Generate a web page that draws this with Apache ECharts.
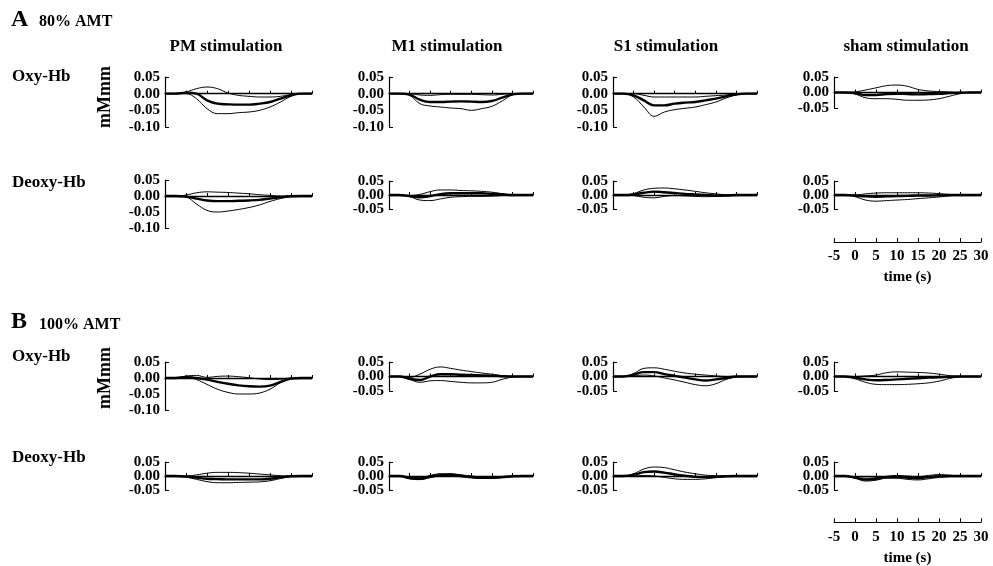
<!DOCTYPE html>
<html>
<head>
<meta charset="utf-8">
<script src="https://cdn.jsdelivr.net/npm/echarts@6/dist/echarts.min.js"></script>
<style>
html, body { margin: 0; padding: 0; background: #fff; }
#main { width: 993px; height: 566px; }
</style>
</head>
<body>
<div id="main"></div>
<script>
// time base in seconds (sampled every 2.5 s)
const times = [-5, -2.5, 0, 2.5, 5, 7.5, 10, 12.5, 15, 17.5, 20, 22.5, 25, 27.5, 30];

// every panel: [upper bound, mean, lower bound]  (mM mm)
// A - 80% AMT
const pmOxy80 = [
  [0, 0, 0.005, 0.015, 0.02, 0.015, 0.002, -0.005, -0.008, -0.01, -0.01, -0.008, -0.003, 0, 0],
  [0, 0, 0.003, 0, -0.02, -0.03, -0.032, -0.033, -0.033, -0.03, -0.025, -0.015, -0.005, 0, 0],
  [0, 0, 0, -0.015, -0.045, -0.06, -0.06, -0.057, -0.055, -0.05, -0.04, -0.025, -0.008, 0, 0]
];
const m1Oxy80 = [
  [0, 0, 0, -0.004, -0.005, -0.003, -0.002, -0.002, -0.002, -0.003, -0.004, -0.002, 0, 0, 0],
  [0, 0, -0.003, -0.018, -0.025, -0.025, -0.024, -0.023, -0.024, -0.025, -0.022, -0.012, -0.002, 0, 0],
  [0, 0, -0.005, -0.03, -0.037, -0.04, -0.043, -0.045, -0.05, -0.045, -0.038, -0.022, -0.004, 0, 0]
];
const s1Oxy80 = [
  [0, 0, 0, -0.005, -0.01, -0.01, -0.01, -0.01, -0.01, -0.008, -0.006, -0.004, 0, 0, 0],
  [0, 0, -0.005, -0.02, -0.035, -0.035, -0.03, -0.027, -0.025, -0.02, -0.015, -0.008, -0.002, 0, 0],
  [0, 0, -0.01, -0.04, -0.068, -0.055, -0.048, -0.044, -0.04, -0.033, -0.025, -0.013, -0.004, 0, 0]
];
const shamOxy80 = [
  [0, 0, 0.002, 0.008, 0.015, 0.022, 0.024, 0.02, 0.01, 0.005, 0.003, 0.002, 0, 0, 0],
  [0, 0, -0.002, -0.008, -0.008, -0.005, -0.004, -0.005, -0.006, -0.005, -0.004, -0.002, -0.001, 0, 0],
  [0, 0, -0.005, -0.017, -0.02, -0.02, -0.022, -0.025, -0.025, -0.024, -0.02, -0.012, -0.004, 0, 0]
];
const pmDeoxy80 = [
  [0, 0, 0.003, 0.01, 0.013, 0.012, 0.011, 0.009, 0.007, 0.004, 0.002, 0, 0, 0, 0],
  [0, 0, -0.002, -0.008, -0.014, -0.016, -0.016, -0.015, -0.014, -0.012, -0.008, -0.004, -0.001, 0, 0],
  [0, 0, -0.003, -0.025, -0.045, -0.05, -0.047, -0.042, -0.036, -0.028, -0.017, -0.008, -0.002, 0, 0]
];
const m1Deoxy80 = [
  [0, 0, -0.002, 0.002, 0.012, 0.018, 0.018, 0.016, 0.015, 0.013, 0.01, 0.005, 0, 0, 0],
  [0, 0, -0.004, -0.008, -0.004, 0.003, 0.006, 0.006, 0.006, 0.006, 0.004, 0.002, 0, 0, 0],
  [0, 0, -0.006, -0.018, -0.02, -0.014, -0.008, -0.006, -0.005, -0.005, -0.004, -0.002, 0, 0, 0]
];
const s1Deoxy80 = [
  [0, 0, 0.005, 0.018, 0.024, 0.025, 0.022, 0.018, 0.013, 0.008, 0.004, 0.001, 0, 0, 0],
  [0, 0, 0.002, 0.008, 0.012, 0.01, 0.007, 0.004, 0.002, 0, -0.002, -0.002, 0, 0, 0],
  [0, 0, -0.002, -0.008, -0.01, -0.005, -0.002, -0.003, -0.005, -0.006, -0.005, -0.003, 0, 0, 0]
];
const shamDeoxy80 = [
  [0, 0, 0, 0.004, 0.007, 0.008, 0.008, 0.008, 0.008, 0.007, 0.005, 0.002, 0, 0, 0],
  [0, 0, -0.002, -0.005, -0.006, -0.005, -0.004, -0.003, -0.002, -0.002, -0.001, 0, 0, 0, 0],
  [0, 0, -0.006, -0.018, -0.022, -0.02, -0.018, -0.016, -0.013, -0.01, -0.007, -0.003, 0, 0, 0]
];
// B - 100% AMT
const pmOxy100 = [
  [0, 0, 0.006, 0.008, 0.002, 0.005, 0.006, 0.004, 0.001, -0.003, -0.005, -0.004, 0, 0, 0],
  [0, 0, 0.003, 0, -0.005, -0.012, -0.018, -0.023, -0.026, -0.027, -0.024, -0.012, -0.002, 0, 0],
  [0, 0, 0.002, -0.005, -0.02, -0.035, -0.045, -0.05, -0.05, -0.047, -0.035, -0.015, -0.003, 0, 0]
];
const m1Oxy100 = [
  [0, 0, -0.003, 0.008, 0.025, 0.033, 0.028, 0.022, 0.017, 0.012, 0.008, 0.003, 0, 0, 0],
  [0, 0, -0.008, -0.012, 0, 0.008, 0.008, 0.006, 0.005, 0.004, 0.003, 0.001, 0, 0, 0],
  [0, 0, -0.01, -0.02, -0.015, -0.014, -0.017, -0.02, -0.022, -0.022, -0.02, -0.01, -0.002, 0, 0]
];
const s1Oxy100 = [
  [0, 0, 0.01, 0.028, 0.03, 0.025, 0.018, 0.012, 0.008, 0.005, 0.002, 0, 0, 0, 0],
  [0, 0, 0.006, 0.015, 0.015, 0.008, 0.002, -0.004, -0.01, -0.014, -0.01, -0.005, 0, 0, 0],
  [0, 0, 0.002, 0.005, 0.002, -0.005, -0.012, -0.02, -0.028, -0.032, -0.025, -0.01, -0.002, 0, 0]
];
const shamOxy100 = [
  [0, 0, 0, 0.002, 0.005, 0.013, 0.016, 0.015, 0.014, 0.012, 0.008, 0.003, 0, 0, 0],
  [0, 0, -0.004, -0.01, -0.013, -0.012, -0.01, -0.008, -0.006, -0.004, -0.003, -0.001, 0, 0, 0],
  [0, 0, -0.008, -0.02, -0.027, -0.028, -0.028, -0.027, -0.025, -0.022, -0.016, -0.007, -0.001, 0, 0]
];
const pmDeoxy100 = [
  [0, 0, 0, 0.004, 0.01, 0.013, 0.013, 0.012, 0.01, 0.007, 0.004, 0.001, 0, 0, 0],
  [0, 0, -0.002, -0.006, -0.01, -0.011, -0.012, -0.012, -0.012, -0.012, -0.01, -0.005, -0.001, 0, 0],
  [0, 0, -0.004, -0.012, -0.02, -0.024, -0.024, -0.023, -0.022, -0.021, -0.017, -0.009, -0.002, 0, 0]
];
const m1Deoxy100 = [
  [0, 0, -0.004, -0.006, 0.002, 0.008, 0.008, 0.004, 0, -0.003, -0.003, -0.002, 0, 0, 0],
  [0, 0, -0.007, -0.01, -0.002, 0.004, 0.005, 0.001, -0.003, -0.006, -0.006, -0.004, -0.001, 0, 0],
  [0, 0, -0.01, -0.013, -0.006, 0, 0.001, -0.003, -0.007, -0.009, -0.009, -0.006, -0.002, 0, 0]
];
const s1Deoxy100 = [
  [0, 0, 0.008, 0.025, 0.032, 0.03, 0.022, 0.014, 0.008, 0.003, 0.001, 0, 0, 0, 0],
  [0, 0, 0.004, 0.014, 0.016, 0.012, 0.006, 0.001, -0.003, -0.004, -0.003, -0.001, 0, 0, 0],
  [0, 0, 0, 0.002, 0, -0.005, -0.01, -0.012, -0.012, -0.01, -0.006, -0.002, 0, 0, 0]
];
const shamDeoxy100 = [
  [0, 0, -0.004, -0.008, -0.006, -0.001, 0.002, 0, -0.003, 0.002, 0.005, 0.003, 0, 0, 0],
  [0, 0, -0.006, -0.013, -0.01, -0.004, -0.003, -0.006, -0.008, -0.004, -0.001, 0, 0, 0, 0],
  [0, 0, -0.008, -0.018, -0.015, -0.008, -0.008, -0.012, -0.014, -0.01, -0.005, -0.002, 0, 0, 0]
];

const colTitles = ['PM stimulation', 'M1 stimulation', 'S1 stimulation', 'sham stimulation'];

// layout (pixels)
const colLeft = [165, 389, 613, 834];
const colWidth = [147, 144, 144, 147];
const titleX = [226, 447, 666, 906];
const serif = 'Liberation Serif';

// panel placement: data, column, top, height, y min
const panels = [
  [pmOxy80, 0, 77, 50, -0.1], [m1Oxy80, 1, 77, 50, -0.1], [s1Oxy80, 2, 77, 50, -0.1], [shamOxy80, 3, 77, 31, -0.05],
  [pmDeoxy80, 0, 180, 48, -0.1], [m1Deoxy80, 1, 181, 28, -0.05], [s1Deoxy80, 2, 181, 28, -0.05], [shamDeoxy80, 3, 181, 28, -0.05],
  [pmOxy100, 0, 362, 48, -0.1], [m1Oxy100, 1, 362, 29, -0.05], [s1Oxy100, 2, 362, 29, -0.05], [shamOxy100, 3, 362, 29, -0.05],
  [pmDeoxy100, 0, 462, 28, -0.05], [m1Deoxy100, 1, 462, 28, -0.05], [s1Deoxy100, 2, 462, 28, -0.05], [shamDeoxy100, 3, 462, 28, -0.05]
];

const grid = [], xAxis = [], yAxis = [], series = [];

function yLabelStyle(values) {
  return {
    customValues: values, margin: 5, color: '#000', hideOverlap: false,
    showMinLabel: true, showMaxLabel: true,
    fontFamily: serif, fontWeight: 'bold', fontSize: 15, lineHeight: 11,
    formatter: function (v) { return v.toFixed(2); }
  };
}

panels.forEach(function (p, i) {
  const data = p[0], c = p[1], top = p[2], h = p[3], yMin = p[4];
  const tall = yMin === -0.1;
  grid.push({ left: colLeft[c], width: colWidth[c], top: top, height: h });
  xAxis.push({
    gridIndex: i, type: 'value', min: -5, max: 30, interval: 5,
    axisLine: { onZero: true, lineStyle: { color: '#000', width: 1.3 } },
    axisTick: { inside: true, length: 3, lineStyle: { color: '#000' } },
    axisLabel: { show: false },
    splitLine: { show: false }
  });
  const yi = yAxis.length;
  // bracket axis (carries the outer labels)
  yAxis.push({
    gridIndex: i, type: 'value', position: 'left', min: yMin, max: 0.05, interval: 0.05,
    axisLine: { show: true, onZero: false, lineStyle: { color: '#000', width: 1.2 } },
    axisTick: { show: true, inside: true, length: 4, customValues: [yMin, 0.05], lineStyle: { color: '#000' } },
    axisLabel: yLabelStyle(tall ? [-0.1, -0.05, 0, 0.05] : [-0.05, 0.05]),
    splitLine: { show: false }
  });
  // short panels: the 0.00 label sits on its own axis so it is not dropped as an overlap
  if (!tall) {
    yAxis.push({
      gridIndex: i, type: 'value', position: 'left', min: yMin, max: 0.05, interval: 0.05,
      axisLine: { show: false, onZero: false }, axisTick: { show: false },
      axisLabel: yLabelStyle([0]),
      splitLine: { show: false }
    });
  }
  data.forEach(function (row, k) {
    series.push({
      type: 'line', xAxisIndex: i, yAxisIndex: yi,
      data: times.map(function (t, j) { return [t, row[j]]; }),
      smooth: 0.4, symbol: 'none', silent: true,
      lineStyle: { color: '#000', width: k === 1 ? 2.4 : 1 }
    });
  });
});

// stand-alone time axes under the sham column
[242, 523].forEach(function (y) {
  const gi = grid.length;
  grid.push({ left: colLeft[3], width: colWidth[3], top: y - 1, height: 1 });
  xAxis.push({
    gridIndex: gi, type: 'value', min: -5, max: 30, interval: 5, position: 'bottom',
    name: 'time (s)', nameLocation: 'middle', nameGap: 28,
    nameTextStyle: { color: '#000', fontFamily: serif, fontWeight: 'bold', fontSize: 15 },
    axisLine: { onZero: false, lineStyle: { color: '#000', width: 1.2 } },
    axisTick: { inside: true, length: 4, lineStyle: { color: '#000' } },
    axisLabel: { margin: 7, color: '#000', fontFamily: serif, fontWeight: 'bold', fontSize: 15 },
    splitLine: { show: false }
  });
  yAxis.push({ gridIndex: gi, type: 'value', min: 0, max: 1, show: false });
});

function label(text, x, y, size, align, rot) {
  return {
    type: 'text', x: x, y: y, rotation: rot || 0,
    style: {
      text: text, fill: '#000', font: 'bold ' + size + 'px "' + serif + '"',
      textAlign: align || 'left', textVerticalAlign: 'middle'
    }
  };
}

const graphic = [
  label('A', 11, 20, 24), label('80% AMT', 39, 22, 16),
  label('B', 11, 322, 24), label('100% AMT', 39, 325, 16),
  label('Oxy-Hb', 12, 77, 17), label('Deoxy-Hb', 12, 183, 17),
  label('Oxy-Hb', 12, 357, 17), label('Deoxy-Hb', 12, 458, 17),
  label('mMmm', 105, 97, 18, 'center', Math.PI / 2),
  label('mMmm', 105, 378, 18, 'center', Math.PI / 2)
];
colTitles.forEach(function (t, c) {
  graphic.push(label(t, titleX[c], 47, 17, 'center'));
});

const chart = echarts.init(document.getElementById('main'), null, { renderer: 'canvas' });
chart.setOption({
  animation: false,
  backgroundColor: '#fff',
  grid: grid,
  xAxis: xAxis,
  yAxis: yAxis,
  series: series,
  graphic: graphic
});
</script>
</body>
</html>
